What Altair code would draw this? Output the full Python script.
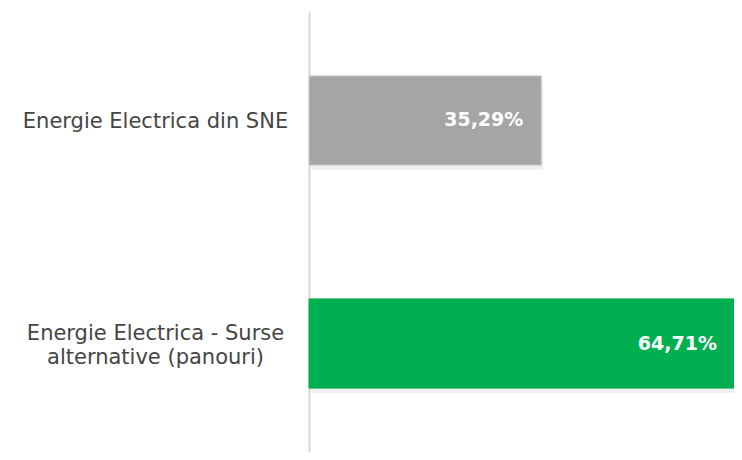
import altair as alt
import pandas as pd

categories = ["Energie Electrica din SNE", "Energie Electrica - Surse alternative (panouri)"]
values = [35.29, 64.71]
value_labels = ["35,29%", "64,71%"]
bar_colors = ["#a5a5a5", "#00b050"]
bar_strokes = ["#cbcbcb", "#00b050"]
label_lines = ["Energie Electrica - Surse", "alternative (panouri)"]

df = pd.DataFrame({"cat": categories, "value": values, "label": value_labels})

is_multi = "datum.label == '" + categories[1] + "'"
label_expr = (
    is_multi + " ? ['" + label_lines[0] + "', '" + label_lines[1] + "'] : datum.label"
)

y_enc = alt.Y(
    "cat:N",
    sort=categories,
    scale=alt.Scale(paddingInner=0.6, paddingOuter=0.2865),
    axis=alt.Axis(
        title=None,
        ticks=False,
        grid=False,
        labelAlign="center",
        labelBaseline="middle",
        labelPadding=154,
        labelFontSize=21,
        labelFont="DejaVu Sans",
        labelColor="#454545",
        labelLineHeight=24,
        labelLimit=400,
        labelOffset={"condition": {"test": is_multi, "value": -10}, "value": 2},
        domainColor="#d9d9d0",
        domainWidth=2,
        labelExpr=label_expr,
    ),
)
x_enc = alt.X("value:Q", scale=alt.Scale(domain=[0, 63.19], nice=False, zero=True), axis=None)

base = alt.Chart(df)

shadow = base.mark_bar(color="#000000", opacity=0.06, xOffset=2, yOffset=5).encode(x=x_enc, y=y_enc)

bars = base.mark_bar(strokeWidth=1).encode(
    x=x_enc,
    y=y_enc,
    color=alt.Color("cat:N", scale=alt.Scale(domain=categories, range=bar_colors), legend=None),
    stroke=alt.Stroke("cat:N", scale=alt.Scale(domain=categories, range=bar_strokes), legend=None),
)

texts = base.mark_text(
    align="right", baseline="middle", dx=-18, color="white", fontWeight="bold", fontSize=19, font="DejaVu Sans"
).encode(x=x_enc, y=y_enc, text="label:N")

chart = (
    alt.layer(shadow, bars, texts)
    .properties(
        width=416,
        height=440,
        autosize="none",
        padding={"left": 301, "top": 4, "right": 9, "bottom": 0},
    )
    .configure_view(stroke=None)
)

chart.save("out.html", embed_options={"renderer": "svg", "actions": False})
